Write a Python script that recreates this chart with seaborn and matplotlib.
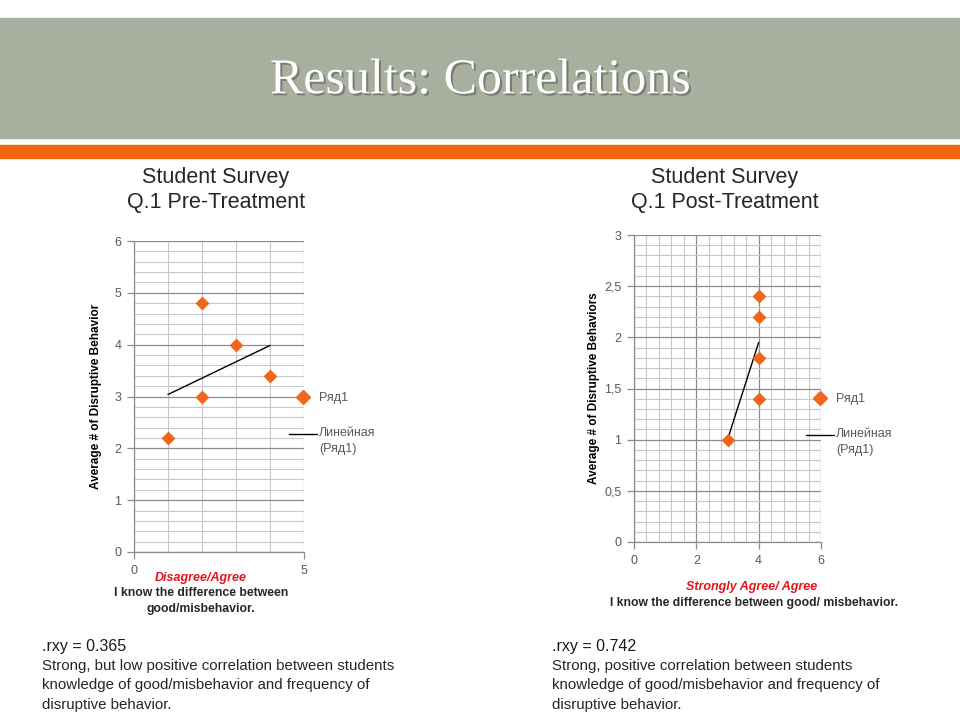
import matplotlib
matplotlib.use("Agg")
import matplotlib.pyplot as plt
import matplotlib.patheffects as pe
from matplotlib.ticker import MultipleLocator, FuncFormatter
from matplotlib.patches import Rectangle
from matplotlib.lines import Line2D
from matplotlib.legend_handler import HandlerLine2D
import seaborn as sns
import pandas as pd

# данные: до и после
pre_x = [1, 2, 2, 3, 4]
pre_y = [2.2, 4.8, 3.0, 4.0, 3.4]
post_x = [3, 4, 4, 4, 4]
post_y = [1.0, 2.4, 2.2, 1.8, 1.4]

series_name = "Ряд1"
trend_name = "Линейная\n(Ряд1)"
titles = ["Student Survey\nQ.1 Pre-Treatment", "Student Survey\nQ.1 Post-Treatment"]
ylabels = ["Average # of Disruptive Behavior", "Average # of Disruptive Behaviors"]
notes = [(".rxy = 0.365",
          "Strong, but low positive correlation between students\n"
          "knowledge of good/misbehavior and frequency of\n"
          "disruptive behavior."),
         (".rxy = 0.742",
          "Strong, positive correlation between students\n"
          "knowledge of good/misbehavior and frequency of\n"
          "disruptive behavior.")]

ORANGE = "#F0661A"
TICK_C = "#595959"

sns.set_style("white")
plt.rcParams["font.family"] = ["Liberation Sans", "DejaVu Sans"]


# линия тренда в легенде - на уровне первой строки подписи
class UpperLine(HandlerLine2D):
    def create_artists(self, legend, orig_handle, xdescent, ydescent, width, height,
                       fontsize, trans):
        arts = super().create_artists(legend, orig_handle, xdescent, ydescent, width,
                                      height, fontsize, trans)
        for a in arts:
            a.set_ydata([v + 0.55 * fontsize for v in a.get_ydata()])
        return arts


fig = plt.figure(figsize=(9.6, 7.2), dpi=100)

# шапка слайда
fig.patches.append(Rectangle((0, 1 - 138 / 720), 1, 120 / 720, transform=fig.transFigure,
                             color="#A9AF9F", zorder=0))
fig.patches.append(Rectangle((0, 1 - 158 / 720), 1, 13 / 720, transform=fig.transFigure,
                             color="#F0650E", zorder=0))
fig.text(0.5, 1 - 81 / 720, "Results: Correlations", ha="center", va="center",
         color="white", fontsize=36, family=["Liberation Serif", "DejaVu Serif"],
         path_effects=[pe.withSimplePatchShadow(offset=(1.5, -1.5), alpha=0.5)])


def comma(v, pos):
    return f"{v:g}".replace(".", ",")


def panel(rect, x, y, xmax, ymax, xmaj, xmin_, ymaj, ymin_, xmaj_grid, leg_y):
    ax = fig.add_axes(rect)
    df = pd.DataFrame({"x": x, "y": y})
    sns.scatterplot(data=df, x="x", y="y", marker="D", s=50, color=ORANGE,
                    edgecolor=ORANGE, linewidth=0, ax=ax, zorder=4, legend=False)
    sns.regplot(data=df, x="x", y="y", scatter=False, ci=None, ax=ax,
                line_kws=dict(color="black", lw=1, zorder=3))
    ax.set_xlim(0, xmax)
    ax.set_ylim(0, ymax)
    ax.xaxis.set_major_locator(MultipleLocator(xmaj))
    ax.xaxis.set_minor_locator(MultipleLocator(xmin_))
    ax.yaxis.set_major_locator(MultipleLocator(ymaj))
    ax.yaxis.set_minor_locator(MultipleLocator(ymin_))
    ax.yaxis.set_major_formatter(FuncFormatter(comma))
    ax.grid(True, which="minor", color="#C8C8C8", lw=0.8)
    ax.grid(True, which="major", axis="y", color="#8C8C8C", lw=0.9)
    ax.grid(True, which="major", axis="x", color="#8C8C8C" if xmaj_grid else "#C8C8C8", lw=0.9)
    ax.set_axisbelow(True)
    for side in ["top", "right"]:
        ax.spines[side].set_visible(False)
    for side in ["left", "bottom"]:
        ax.spines[side].set_color("#8C8C8C")
        ax.spines[side].set_linewidth(0.9)
    ax.tick_params(which="major", direction="out", length=5, width=0.9, color="#8C8C8C",
                   labelsize=9, labelcolor=TICK_C, left=True, bottom=True, pad=4)
    ax.tick_params(which="minor", length=0)
    ax.set_xlabel("")
    ax.set_ylabel("")
    trend = Line2D([], [], color="black", lw=1)
    handles = [Line2D([], [], ls="none", marker="D", ms=7, color=ORANGE, mec=ORANGE), trend]
    leg = ax.legend(handles, [series_name, trend_name], loc="upper left",
                    bbox_to_anchor=(1.0 - 15 / (rect[2] * 960), leg_y),
                    handler_map={trend: UpperLine()},
                    frameon=False, fontsize=9, handlelength=2.2, handletextpad=0.2,
                    labelspacing=1.85, borderpad=0, borderaxespad=0, labelcolor=TICK_C)
    for t in leg.get_texts():
        t.set_linespacing(1.38)
    return ax


ax1 = panel([134 / 960, 1 - 552 / 720, 170 / 960, 311 / 720], pre_x, pre_y,
            5, 6, 5, 1, 1, 0.2, False, 1 - (392 - 241) / 311)
ax2 = panel([634 / 960, 1 - 542 / 720, 187 / 960, 307 / 720], post_x, post_y,
            6, 3, 2, 0.4, 0.5, 0.1, True, 1 - (393 - 235) / 307)

for ax, lab, xl in [(ax1, ylabels[0], -32 / 170), (ax2, ylabels[1], -34 / 187)]:
    ax.set_ylabel(lab, fontsize=8.5, fontweight="bold", color="black")
    ax.yaxis.set_label_coords(xl, 0.5)

# заголовки графиков
fig.text(216 / 960, 1 - 190 / 720, titles[0], ha="center", va="center", fontsize=15.5,
         linespacing=1.3)
fig.text(725 / 960, 1 - 190 / 720, titles[1], ha="center", va="center", fontsize=15.5,
         linespacing=1.3)

# подписи оси x
fig.text(201 / 960, 1 - 578 / 720, "Disagree/Agree", ha="center", va="center",
         color="#E8101A", fontsize=9, fontweight="bold", style="italic")
fig.text(201 / 960, 1 - 601 / 720, "I know the difference between\ngood/misbehavior.",
         ha="center", va="center", fontsize=8.8, fontweight="bold", linespacing=1.45)
fig.text(752 / 960, 1 - 587 / 720, "Strongly Agree/ Agree", ha="center", va="center",
         color="#E8101A", fontsize=9, fontweight="bold", style="italic")
fig.text(754 / 960, 1 - 603 / 720, "I know the difference between good/ misbehavior.",
         ha="center", va="center", fontsize=8.7, fontweight="bold")

# выводы под графиками
for xpos, (head, body) in zip([42 / 960, 552 / 960], notes):
    fig.text(xpos, 1 - 646 / 720, head, ha="left", va="center", fontsize=11.5,
             color="#1A1A1A")
    fig.text(xpos, 1 - 659 / 720, body, ha="left", va="top", fontsize=10.8,
             color="#262626", linespacing=1.5)

fig.savefig("out.png", dpi=100)
